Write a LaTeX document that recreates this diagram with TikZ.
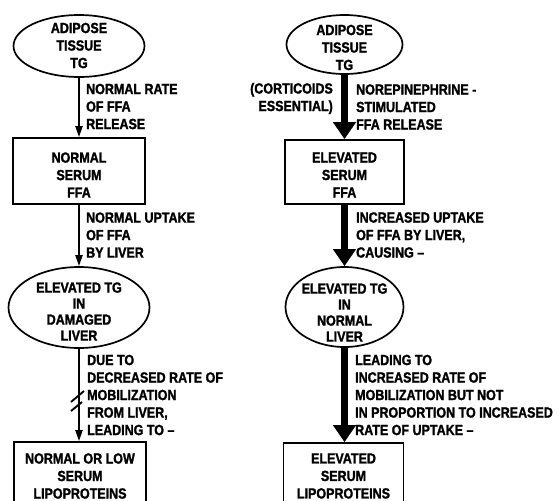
\documentclass[tikz,border=0pt]{standalone}
\usepackage{fontspec}
\setmainfont{Liberation Sans}
\newfontfamily\dfont[FakeStretch=0.85,FakeBold=1.5]{Liberation Sans Bold}
\usetikzlibrary{shapes.geometric,arrows.meta}
\begin{document}
\begin{tikzpicture}[x=1pt,y=-1pt,
  txt/.style={font=\dfont\fontsize{14.7}{17.5}\selectfont, align=center, inner sep=0pt},
  txtb/.style={font=\dfont\fontsize{14.7}{16}\selectfont, align=center, inner sep=0pt},
  lbl/.style={font=\dfont\fontsize{14.7}{17.5}\selectfont, align=left, anchor=west, inner sep=0pt},
  ell/.style={ellipse, draw, line width=1.7pt, inner sep=0pt},
  boxs/.style={rectangle, draw, line width=1.7pt, inner sep=0pt},
  thinarr/.style={line width=1.9pt, -{Triangle[length=11pt,width=7pt]}},
  thickarr/.style={line width=7.5pt, -{Triangle[length=17pt,width=22pt]}}
]
\useasboundingbox (0,0) rectangle (558,501);
\fill[white] (0,0) rectangle (558,501);

% ---------- left column ----------
\node[ell, minimum width=131pt, minimum height=62pt] (l1) at (79,46) {};
\node[txt] (l1t) at (79,45.5) {ADIPOSE\\TISSUE\\TG};

\node[boxs, minimum width=132pt, minimum height=66pt] (b1) at (79,171) {};
\node[txt] (b1t) at (79,175) {NORMAL\\SERUM\\FFA};

\node[ell, minimum width=141pt, minimum height=81pt] (l2) at (79,307.5) {};
\node[txtb] (l2t) at (79,311.5) {ELEVATED TG\\IN\\DAMAGED\\LIVER};

\node[boxs, minimum width=132pt, minimum height=68pt] (b2) at (80,476) {};
\node[txt] (b2t) at (80,476) {NORMAL OR LOW\\SERUM\\LIPOPROTEINS};

\draw[thinarr] (l1) -- (b1);
\draw[thinarr] (b1) -- (l2);
\draw[thinarr] (l2) -- (l2 |- b2.north);
\draw[line width=1.9pt] (71,402) -- (84,391);
\draw[line width=1.9pt] (71,411) -- (82,402);

\node[lbl] (la) at (86,106.5) {NORMAL RATE\\OF FFA\\RELEASE};
\node[lbl] (lb) at (86,235) {NORMAL UPTAKE\\OF FFA\\BY LIVER};
\node[lbl] (lc) at (87,395) {DUE TO\\DECREASED RATE OF\\MOBILIZATION\\FROM LIVER,\\LEADING TO –};

% ---------- right column ----------
\node[ell, minimum width=116pt, minimum height=59pt] (r1) at (344.5,44.5) {};
\node[txt] (r1t) at (344.5,47.5) {ADIPOSE\\TISSUE\\TG};

\node[boxs, minimum width=119pt, minimum height=64pt] (rb1) at (344.5,172) {};
\node[txt] (rb1t) at (344.5,175) {ELEVATED\\SERUM\\FFA};

\node[ell, minimum width=118pt, minimum height=80pt] (r2) at (344.5,307) {};
\node[txtb] (r2t) at (344.5,312.5) {ELEVATED TG\\IN\\NORMAL\\LIVER};

\node[boxs, minimum width=120pt, minimum height=66pt] (rb2) at (343.5,476) {};
\node[txt] (rb2t) at (343.5,476) {ELEVATED\\SERUM\\LIPOPROTEINS};

\draw[thickarr] (r1) -- (rb1);
\draw[thickarr] (rb1) -- (r2);
\draw[thickarr] (r2) -- (r2 |- rb2.north);

\node[lbl, anchor=east, align=right] (ra0) at (333,98.5) {(CORTICOIDS\\ESSENTIAL)};
\node[lbl] (ra) at (356,107) {NOREPINEPHRINE -\\STIMULATED\\FFA RELEASE};
\node[lbl] (rb) at (356,235) {INCREASED UPTAKE\\OF FFA BY LIVER,\\CAUSING –};
\node[lbl] (rc) at (355,395) {LEADING TO\\INCREASED RATE OF\\MOBILIZATION BUT NOT\\IN PROPORTION TO INCREASED\\RATE OF UPTAKE –};
\end{tikzpicture}
\end{document}
